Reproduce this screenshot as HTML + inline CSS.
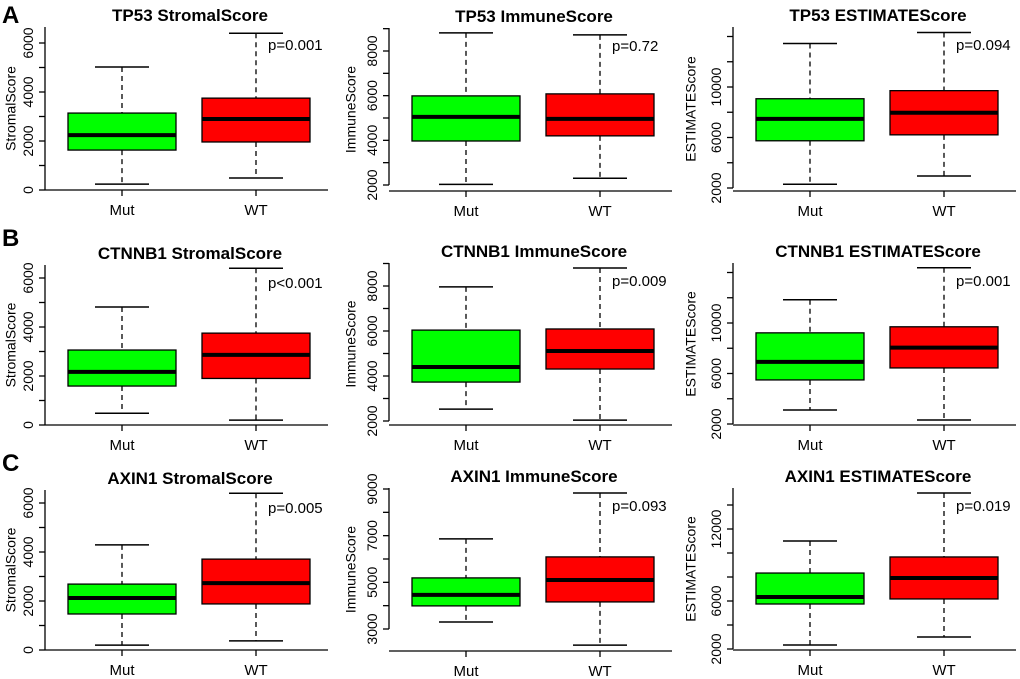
<!DOCTYPE html>
<html><head><meta charset="utf-8"><style>
body{margin:0;background:#fff}
svg{display:block;font-family:"Liberation Sans",Arial,sans-serif}
</style></head><body>
<svg id="fig" width="1020" height="679" viewBox="0 0 1020 679" xmlns="http://www.w3.org/2000/svg"></svg>
<script>
// data: [lower whisker, Q1, median, Q3, upper whisker]
const groups = ["Mut","WT"];
const titles = ["TP53 StromalScore","TP53 ImmuneScore","TP53 ESTIMATEScore",
 "CTNNB1 StromalScore","CTNNB1 ImmuneScore","CTNNB1 ESTIMATEScore",
 "AXIN1 StromalScore","AXIN1 ImmuneScore","AXIN1 ESTIMATEScore"];
const yTitles = ["StromalScore","ImmuneScore","ESTIMATEScore","StromalScore","ImmuneScore","ESTIMATEScore","StromalScore","ImmuneScore","ESTIMATEScore"];
const pValues = ["p=0.001","p=0.72","p=0.094","p<0.001","p=0.009","p=0.001","p=0.005","p=0.093","p=0.019"];
const mutStats = [
 [240,1630,2240,3140,5020],[2030,3970,5050,5990,8810],[2300,5740,7480,9070,13450],
 [480,1590,2170,3060,4816],[2530,3730,4400,6040,7960],[3110,5490,6920,9220,11840],
 [200,1470,2120,2690,4290],[3300,3990,4460,5190,6860],[2330,5750,6330,8330,11000]];
const wtStats = [
 [490,1960,2900,3750,6400],[2300,4200,4960,6080,8720],[2950,6210,7960,9710,14320],
 [200,1900,2860,3750,6400],[2040,4310,5110,6090,8800],[2320,6440,8050,9700,14380],
 [370,1880,2730,3710,6400],[2310,4160,5100,6090,8830],[3000,6170,7920,9670,15000]];
const tickVals = [
 [0,1000,2000,3000,4000,5000,6000],[2000,3000,4000,5000,6000,7000,8000,9000],[2000,4000,6000,8000,10000,12000,14000],
 [0,1000,2000,3000,4000,5000,6000],[2000,3000,4000,5000,6000,7000,8000,9000],[2000,4000,6000,8000,10000,12000,14000],
 [0,1000,2000,3000,4000,5000,6000],[3000,4000,5000,6000,7000,8000,9000],[2000,4000,6000,8000,10000,12000,14000]];
const tickLabels = [
 ["0","2000","4000","6000"],["2000","4000","6000","8000"],["2000","6000","10000"],
 ["0","2000","4000","6000"],["2000","4000","6000","8000"],["2000","6000","10000"],
 ["0","2000","4000","6000"],["3000","5000","7000","9000"],["2000","6000","12000"]];
const rowLetters = ["A","B","C"];

// layout (pixel geometry, not data)
const layout = [
 {ox:0,oy:0,axX:45,xAxisY:190,yTop:27,v0:0,p0:190,v1:6000,p1:43},
 {ox:340,oy:0,axX:49,xAxisY:191,yTop:28,v0:2000,p0:185,v1:8000,p1:51},
 {ox:680,oy:0,axX:53,xAxisY:191,yTop:27,v0:2000,p0:188,v1:10000,p1:87},
 {ox:0,oy:225,axX:45,xAxisY:200,yTop:40,v0:0,p0:200,v1:6000,p1:53},
 {ox:340,oy:225,axX:49,xAxisY:200,yTop:38,v0:2000,p0:196,v1:8000,p1:61},
 {ox:680,oy:225,axX:53,xAxisY:200,yTop:38,v0:2000,p0:199,v1:10000,p1:98},
 {ox:0,oy:450,axX:45,xAxisY:200,yTop:40,v0:0,p0:200,v1:6000,p1:53},
 {ox:340,oy:450,axX:49,xAxisY:201,yTop:38,v0:3000,p0:179,v1:9000,p1:39},
 {ox:680,oy:450,axX:53,xAxisY:200,yTop:38,v0:2000,p0:199,v1:12000,p1:79}];
const letterY = [23,246,471];

const NS="http://www.w3.org/2000/svg";
const svg=document.getElementById('fig');
function mk(tag,attrs,parent,text){const e=document.createElementNS(NS,tag);for(const k in attrs)e.setAttribute(k,attrs[k]);if(text!==undefined)e.textContent=text;(parent||svg).appendChild(e);return e;}

rowLetters.forEach((L,i)=>{
 const t=mk('text',{x:2,y:letterY[i],'font-size':24,'font-weight':'bold',fill:'#000'},svg,L);
 
 
});

layout.forEach((c,i)=>{
 const g=mk('g',{transform:`translate(${c.ox},${c.oy})`});
 
 
 const y=v=>c.p0+(v-c.v0)*(c.p1-c.p0)/(c.v1-c.v0);
 const x=idx=>c.axX+77+idx*134;
 const xRight=c.axX+283;
 const tt=mk('text',{x:c.axX+145,y:c.yTop-6,'font-size':17,'font-weight':'bold','text-anchor':'middle'},g,titles[i]);
 
 
 const tv=tickVals[i];
 const ya=mk('line',{x1:c.axX,x2:c.axX,y1:c.yTop,y2:y(tv[0]),stroke:'#000','stroke-width':1.3},g);
 
 
 tv.forEach(v=>{mk('line',{x1:c.axX-6,x2:c.axX,y1:y(v),y2:y(v),stroke:'#000','stroke-width':1.3},g);});
 tickLabels[i].forEach(l=>{
  const v=+l, py=y(v), px=c.axX-12;
  const t=mk('text',{x:px,y:py,'font-size':14,'text-anchor':'middle',transform:`rotate(-90 ${px} ${py})`},g,l);
  
  
 });
 const ymid=(c.yTop+c.xAxisY)/2, yx=12;
 const yt=mk('text',{x:yx,y:ymid,'font-size':14,'text-anchor':'middle','dominant-baseline':'middle',transform:`rotate(-90 ${yx} ${ymid})`},g,yTitles[i]);
 
 
 const xa=mk('line',{x1:c.axX,x2:xRight,y1:c.xAxisY,y2:c.xAxisY,stroke:'#000','stroke-width':1.3},g);
 
 
 groups.forEach((gn,j)=>{
  mk('line',{x1:x(j),x2:x(j),y1:c.xAxisY,y2:c.xAxisY+6,stroke:'#000','stroke-width':1.3},g);
  const t=mk('text',{x:x(j),y:c.xAxisY+25,'font-size':15,'text-anchor':'middle'},g,gn);
  
  
  const s=(j===0?mutStats:wtStats)[i];
  const col=j===0?'#00ff00':'#ff0000';
  const bg=mk('g',{},g);
  
  
  const cx=x(j);
  mk('line',{x1:cx,x2:cx,y1:y(s[4]),y2:y(s[3]),stroke:'#000','stroke-width':1.3,'stroke-dasharray':'5,4'},bg);
  mk('line',{x1:cx,x2:cx,y1:y(s[1]),y2:y(s[0]),stroke:'#000','stroke-width':1.3,'stroke-dasharray':'5,4'},bg);
  mk('line',{x1:cx-27,x2:cx+27,y1:y(s[4]),y2:y(s[4]),stroke:'#000','stroke-width':1.5},bg);
  mk('line',{x1:cx-27,x2:cx+27,y1:y(s[0]),y2:y(s[0]),stroke:'#000','stroke-width':1.5},bg);
  mk('rect',{x:cx-54,y:y(s[3]),width:108,height:y(s[1])-y(s[3]),fill:col,stroke:'#000','stroke-width':1.3},bg);
  mk('line',{x1:cx-54,x2:cx+54,y1:y(s[2]),y2:y(s[2]),stroke:'#000','stroke-width':4},bg);
 });
 const pt=mk('text',{x:x(1)+12,y:c.yTop+23,'font-size':15},g,pValues[i]);
 
 
});
</script>
</body></html>
